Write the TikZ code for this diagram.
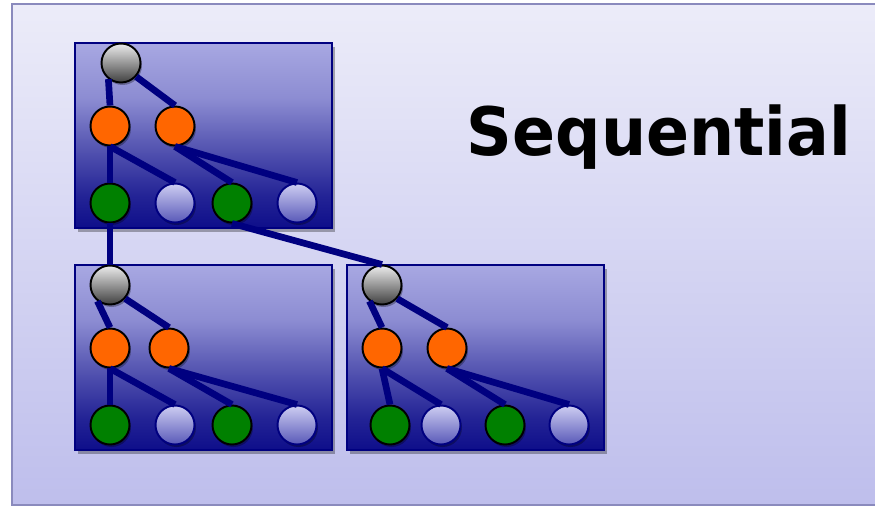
\documentclass[tikz,border=0pt]{standalone}
\usepackage{fontspec}
\newfontfamily\headfont{DejaVu Sans}
\usetikzlibrary{shadows,calc}

\definecolor{navyline}{RGB}{0,0,128}
\definecolor{slidetop}{RGB}{236,236,249}
\definecolor{slidebot}{RGB}{190,190,236}
\definecolor{slideedge}{RGB}{138,138,189}
\definecolor{leafgreen}{RGB}{0,128,0}
\definecolor{taskorange}{RGB}{255,102,0}
\definecolor{boxlight}{RGB}{168,168,226}
\definecolor{boxmid}{RGB}{140,140,210}
\definecolor{boxlow}{RGB}{90,90,180}
\definecolor{boxdeep}{RGB}{36,36,150}
\definecolor{boxdark}{RGB}{14,14,138}

\pgfdeclareverticalshading{boxshade}{100bp}{%
  color(0bp)=(boxdark); color(25bp)=(boxdark); color(34bp)=(boxdeep);
  color(48bp)=(boxlow); color(60bp)=(boxmid); color(75bp)=(boxlight);
  color(100bp)=(boxlight)}

\tikzset{
  treebox/.style={draw=navyline, line width=1.2pt, shading=boxshade,
    drop shadow={shadow xshift=0.05cm, shadow yshift=-0.07cm, opacity=0.3, fill=black}},
  vertex/.style={circle, minimum size=0.78cm, inner sep=0pt, line width=1.1pt,
    drop shadow={shadow xshift=0.03cm, shadow yshift=-0.05cm, opacity=0.3, fill=black}},
  rootv/.style={vertex, draw=black, top color=gray!15, bottom color=black!75},
  midv/.style={vertex, draw=black, fill=taskorange},
  usedv/.style={vertex, draw=black, fill=leafgreen},
  idlev/.style={vertex, draw=navyline, top color={rgb,255:red,205;green,205;blue,242},
    bottom color={rgb,255:red,88;green,88;blue,184}},
  link/.style={draw=navyline, line width=3.8pt}
}

\begin{document}
\begin{tikzpicture}[x=0.02cm, y=-0.02cm]
  \useasboundingbox (0,0) rectangle (875,507);
  \fill[white] (0,0) rectangle (875,507);
  % slide background
  \shade[top color=slidetop, bottom color=slidebot] (12,4) rectangle (880,505);
  \draw[slideedge, line width=1.1pt] (880,4) -- (12,4) -- (12,505) -- (880,505);

  % three tree panels
  \path[treebox] (75,43) rectangle (332,228);
  \path[treebox] (75,265) rectangle (332,450);
  \path[treebox] (347,265) rectangle (604,450);

  % upper tree
  \node[rootv] (ar) at (121,63) {};
  \node[midv] (a1) at (110,126) {};
  \node[midv] (a2) at (175,126) {};
  \node[usedv] (a11) at (110,203) {};
  \node[idlev] (a12) at (175,203) {};
  \node[usedv] (a21) at (232,203) {};
  \node[idlev] (a22) at (297,203) {};

  % lower left tree
  \node[rootv] (br) at (110,285) {};
  \node[midv] (b1) at (110,348) {};
  \node[midv] (b2) at (169,348) {};
  \node[usedv] (b11) at (110,425) {};
  \node[idlev] (b12) at (175,425) {};
  \node[usedv] (b21) at (232,425) {};
  \node[idlev] (b22) at (297,425) {};

  % lower right tree
  \node[rootv] (cr) at (382,285) {};
  \node[midv] (c1) at (382,348) {};
  \node[midv] (c2) at (447,348) {};
  \node[usedv] (c11) at (390,425) {};
  \node[idlev] (c12) at (441,425) {};
  \node[usedv] (c21) at (505,425) {};
  \node[idlev] (c22) at (569,425) {};

  % tree edges
  \foreach \t in {a,b,c} {
    \draw[link] (\t r.-128) -- (\t 1.north);
    \draw[link] (\t r.-42) -- (\t 2.north);
    \draw[link] (\t 1.south) -- (\t 11.north);
    \draw[link] (\t 1.south) -- (\t 12.north);
    \draw[link] (\t 2.south) -- (\t 21.north);
    \draw[link] (\t 2.south) -- (\t 22.north);
  }
  % links between panels
  \draw[link] (a11.south) -- (br.north);
  \draw[link] (a21.south) -- (cr.north);

  % heading
  \node[anchor=base, inner sep=0pt, font=\headfont\bfseries\fontsize{38}{44}\selectfont, xscale=0.95]
    (title) at (659,155) {Sequential};
\end{tikzpicture}
\end{document}
